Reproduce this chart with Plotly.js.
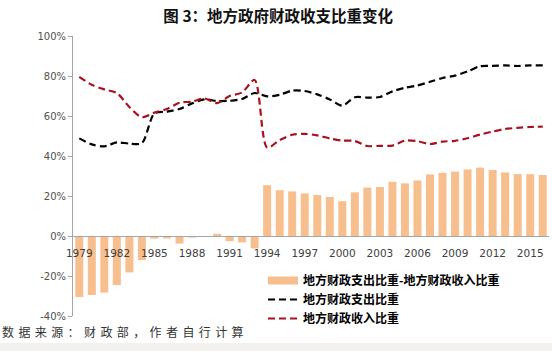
<!DOCTYPE html>
<html><head><meta charset="utf-8">
<script src="https://cdn.plot.ly/plotly-3.0.1.min.js"></script>
<style>html,body{margin:0;padding:0;background:#fff;}#chart{width:552px;height:351px;}</style>
</head><body><div id="chart"></div>
<script>
const years = [1979,1980,1981,1982,1983,1984,1985,1986,1987,1988,1989,1990,1991,1992,1993,1994,1995,1996,1997,1998,1999,2000,2001,2002,2003,2004,2005,2006,2007,2008,2009,2010,2011,2012,2013,2014,2015,2016];
const diffShare = [-30.5,-29.5,-28.3,-24.5,-18.2,-12.0,-1.3,-1.2,-3.8,-0.8,-0.4,1.1,-2.6,-3.2,-6.2,25.4,22.9,22.3,21.3,20.5,19.5,17.4,21.8,24.2,24.5,27.1,26.3,27.8,30.8,31.6,32.2,33.3,34.2,33.0,31.8,31.0,30.9,30.5];
const expShare = [48.8,45.8,44.8,46.8,46.2,46.5,61.3,62.2,63.5,66.3,68.3,67.5,67.6,68.5,71.5,69.8,70.6,72.7,72.5,70.8,68.3,65.2,69.4,69.2,69.5,72.3,74.1,75.3,77.1,79.0,80.2,82.3,84.9,85.1,85.3,85.0,85.3,85.3];
const revShare = [79.6,75.6,73.3,71.5,64.5,59.4,61.7,63.5,66.6,67.2,68.8,66.4,70.0,71.8,78.0,44.2,48.0,50.6,51.1,50.3,48.8,47.7,47.5,45.0,45.1,45.2,47.7,47.4,46.0,47.2,47.6,48.9,50.7,52.2,53.5,54.1,54.5,54.7];
const tickYears = [1979,1982,1985,1988,1991,1994,1997,2000,2003,2006,2009,2012,2015];
const yTicks = [-40,-20,0,20,40,60,80,100];
const yTickText = ['-40%','-20%','0%','20%','40%','60%','80%','100%'];
const names = ['地方财政支出比重-地方财政收入比重','地方财政支出比重','地方财政收入比重'];
const titleText = '图 3：地方政府财政收支比重变化';
const sourceText = '数据来源：财政部，作者自行计算';

const orange = '#F8BF8E', black = '#000000', red = '#A8121E';
const cjk = '"Noto Sans CJK SC", sans-serif';

const traces = [
  {type:'bar', x:years, y:diffShare, marker:{color:orange}, showlegend:false, hoverinfo:'skip'},
  {type:'scatter', mode:'lines', x:[null], y:[null], name:names[0], line:{color:orange, width:8}},
  {type:'scatter', mode:'lines', x:years, y:expShare, name:names[1], line:{color:black, width:2.2, dash:'7px,4px', shape:'spline', smoothing:0.8}},
  {type:'scatter', mode:'lines', x:years, y:revShare, name:names[2], line:{color:red, width:2.2, dash:'7px,4px', shape:'spline', smoothing:0.8}}
];

const layout = {
  width:552, height:351,
  margin:{l:73, r:3, t:36, b:35},
  paper_bgcolor:'#ffffff', plot_bgcolor:'#ffffff',
  bargap:0.36,
  title:{text:titleText, font:{family:cjk, size:15.5, color:'#111', weight:'bold'}, xref:'container', x:0.504, xanchor:'center', yref:'container', y:0.952, yanchor:'middle'},
  xaxis:{
    range:[1978.5,2016.5], tickmode:'array', tickvals:tickYears, ticktext:tickYears.map(String),
    anchor:'free', position:40/140, showline:true, linecolor:'#A6A6A6', linewidth:1,
    showgrid:false, zeroline:false, ticks:'', ticklen:0, ticklabelstandoff:7,
    tickfont:{family:'DejaVu Sans', size:10.5, color:'#404040'}
  },
  yaxis:{
    range:[-40,100], tickmode:'array', tickvals:yTicks, ticktext:yTickText,
    showline:true, linecolor:'#A6A6A6', linewidth:1, ticks:'outside', ticklen:4, tickcolor:'#A6A6A6',
    showgrid:false, zeroline:false,
    tickfont:{family:'DejaVu Sans', size:10, color:'#505050'}
  },
  legend:{x:(263-73)/476, xanchor:'left', y:(316-266)/280, yanchor:'top', bgcolor:'rgba(0,0,0,0)',
    font:{family:cjk, size:12, color:'#000', weight:'bold'}, tracegroupgap:0, itemwidth:30},
  shapes:[{type:'rect', xref:'paper', yref:'paper', x0:-0.2, x1:1.1, y0:-0.0964, y1:-0.14, fillcolor:'#F3F1EE', line:{width:0}, layer:'below'}],
  annotations:[{text:'<span style="letter-spacing:4.4px">'+sourceText+'</span>', xref:'paper', yref:'paper', x:-73/476, xanchor:'left', y:(316-331)/280, yanchor:'middle', showarrow:false, font:{family:cjk, size:12, color:'#333'}}]
};

Plotly.newPlot('chart', traces, layout, {displayModeBar:false, staticPlot:true});
</script></body></html>
